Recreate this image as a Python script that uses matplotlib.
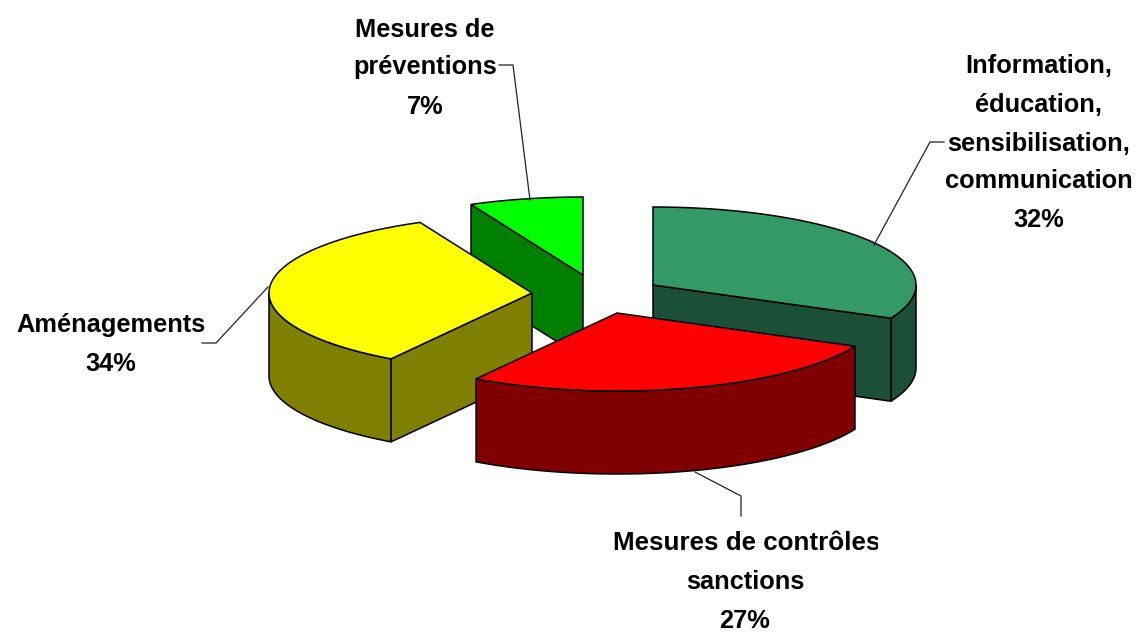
import matplotlib
matplotlib.use('Agg')
import matplotlib.pyplot as plt
from matplotlib.patches import Polygon, Rectangle
import numpy as np

plt.rcParams['font.family'] = ['Liberation Sans', 'DejaVu Sans']

# Data (clockwise from 12 o'clock)
slice_names = ['Information', 'Mesures de contrôles', 'Aménagements', 'Mesures de préventions']
values = [32, 27, 34, 7]

top_colors = ['#339966', '#ff0000', '#ffff00', '#00ff00']
side_colors = ['#1c4f37', '#800000', '#808000', '#008000']

# Layout in pixels, one exploded centre per slice
W, H = 1139, 635
RX, RY, DEPTH = 263, 78, 83
centers = [(653, 285), (617, 313), (532, 293), (583, 275)]
draw_order = [3, 2, 0, 1]
# which straight edge of each slice shows its cut face (0 start, 1 end)
cut_face = [1, None, 0, 0]


def rim(cx, cy, a0, a1, dy=0):
    """Points of the ellipse, angles in degrees clockwise from the top"""
    n = max(int(abs(a1 - a0)), 2)
    a = np.radians(np.linspace(a0, a1, n))
    return np.column_stack([cx + RX * np.sin(a), cy - RY * np.cos(a) + dy])


fig = plt.figure(figsize=(W / 100, H / 100), dpi=100)
ax = fig.add_axes([0, 0, 1, 1])
ax.set_xlim(0, W)
ax.set_ylim(H, 0)
ax.axis('off')

edges = np.cumsum([0] + values) / sum(values) * 360

for i in draw_order:
    cx, cy = centers[i]
    a0, a1 = edges[i], edges[i + 1]

    # outer wall, only the part on the front of the ellipse
    f0, f1 = max(a0, 90), min(a1, 270)
    if f1 > f0:
        front = rim(cx, cy, f0, f1)
        wall = np.vstack([front, (front + [0, DEPTH])[::-1]])
        ax.add_patch(Polygon(wall, fc=side_colors[i], ec='black', lw=1.1))

    # cut face
    if cut_face[i] is not None:
        a = edges[i + cut_face[i]]
        p = rim(cx, cy, a, a + 1)[0]
        face = [(cx, cy), tuple(p), (p[0], p[1] + DEPTH), (cx, cy + DEPTH)]
        ax.add_patch(Polygon(face, fc=side_colors[i], ec='black', lw=1.1))

    top = np.vstack([[(cx, cy)], rim(cx, cy, a0, a1)])
    ax.add_patch(Polygon(top, fc=top_colors[i], ec='black', lw=1.1))

# Leader lines
leaders = [
    ([874, 930, 944], [245, 142, 142]),
    ([695, 741, 741], [472, 496, 516]),
    ([268, 216, 202], [287, 343, 343]),
    ([530, 513, 499], [200, 65, 65]),
]
for lx, ly in leaders:
    ax.plot(lx, ly, color='#222222', lw=0.9, zorder=5)

# Labels, one line at a time
label_lines = [
    (1039, ['Information,', 'éducation,', 'sensibilisation,', 'communication', '32%'], [66, 105, 144, 181, 220]),
    (745, ['sanctions', '27%'], [582, 621]),
    (111, ['Aménagements', '34%'], [325, 364]),
    (425, ['Mesures de', 'préventions', '7%'], [30, 67, 107]),
]
for x, lines, ys in label_lines:
    for line, y in zip(lines, ys):
        ax.text(x, y, line, ha='center', va='center', fontsize=18.3, fontweight='bold', zorder=6)

# the first line of this label is cut off by its box in the original
t = ax.text(613, 543, 'Mesures de contrôles,', ha='left', va='center', fontsize=18.7, fontweight='bold', zorder=6)
t.set_clip_path(Rectangle((600, 520), 278, 45, transform=ax.transData))
t.set_clip_on(True)

fig.savefig('out.png', dpi=100, facecolor='white')
plt.close(fig)
